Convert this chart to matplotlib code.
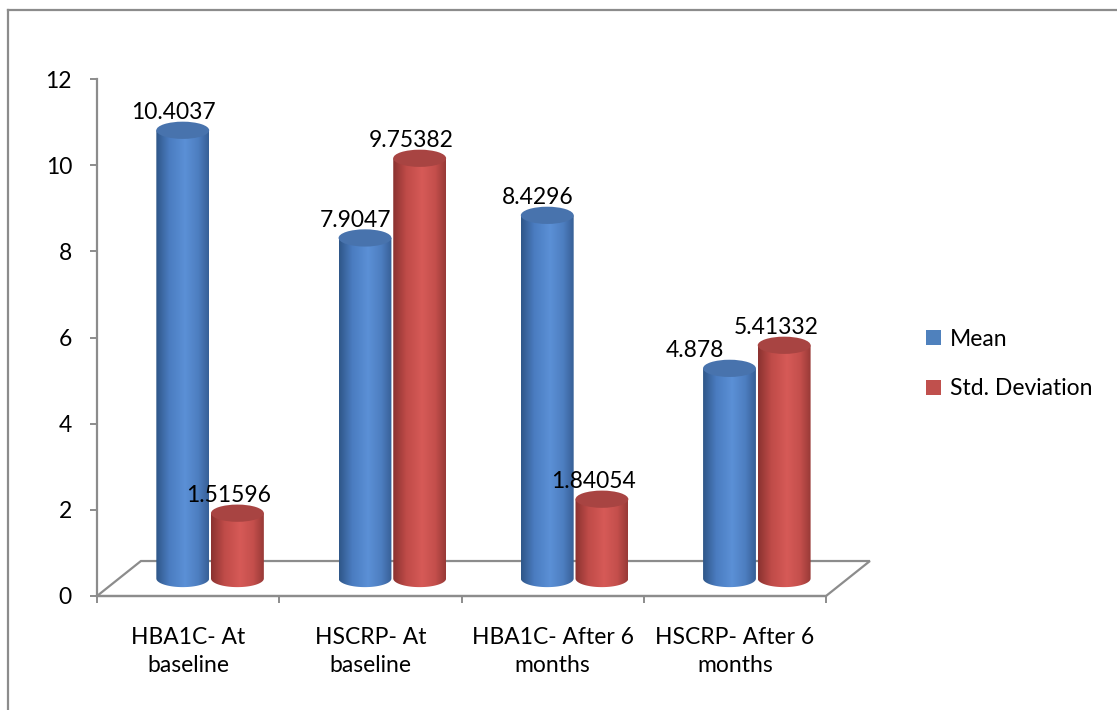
import numpy as np
import matplotlib
matplotlib.use("Agg")
import matplotlib.pyplot as plt
from matplotlib.patches import Ellipse, Polygon, PathPatch, Rectangle
from matplotlib.path import Path
from matplotlib.colors import LinearSegmentedColormap
from matplotlib.lines import Line2D

categories = ["HBA1C- At\nbaseline", "HSCRP- At\nbaseline",
              "HBA1C- After 6\nmonths", "HSCRP- After 6\nmonths"]
series_names = ["Mean", "Std. Deviation"]
mean_values = [10.4037, 7.9047, 8.4296, 4.878]
std_values = [1.51596, 9.75382, 1.84054, 5.41332]
mean_labels = ["10.4037", "7.9047", "8.4296", "4.878"]
std_labels = ["1.51596", "9.75382", "1.84054", "5.41332"]
y_ticks = [0, 2, 4, 6, 8, 10, 12]

plt.rcParams["font.family"] = ["Lato", "DejaVu Sans"]
FS = 16.5
W, H = 1117, 710
fig = plt.figure(figsize=(W / 100, H / 100), dpi=100)
ax = fig.add_axes([97 / W, (H - 596) / H, (826 - 97) / W, (596 - 79) / H])
ax.set_xlim(0, 4)
ax.set_ylim(0, 12)

edge_gray = "#8c8c8c"

# depth of the floor and of the bar plane (in data units)
floor_dx, floor_dy = 0.241, 0.812
bar_dx, bar_dy = floor_dx / 2, floor_dy / 2
bar_w = 0.29
ell_h = 0.40

# floor outline
floor = Polygon([(0, 0), (4, 0), (4 + floor_dx, floor_dy), (floor_dx, floor_dy)],
                closed=True, fill=False, edgecolor=edge_gray, lw=1.6,
                clip_on=False, zorder=1)
ax.add_patch(floor)

blue_cmap = LinearSegmentedColormap.from_list(
    "b", [(0, "#2f5688"), (0.25, "#4a7cc0"), (0.55, "#5b90d6"),
          (0.8, "#4d7ec0"), (1, "#375f96")])
red_cmap = LinearSegmentedColormap.from_list(
    "r", [(0, "#8a3230"), (0.25, "#bf4b48"), (0.55, "#d65a57"),
          (0.8, "#c44f4c"), (1, "#983a37")])
tops = {"b": "#4873ad", "r": "#a84442"}
grad = np.linspace(0, 1, 256).reshape(1, -1)


def cylinder(cx, value, cmap, top_color):
    x0, x1 = cx - bar_w / 2, cx + bar_w / 2
    base = bar_dy
    top = bar_dy + value
    t = np.linspace(np.pi, 2 * np.pi, 60)
    pts = [(cx + bar_w / 2 * np.cos(a), base + ell_h / 2 * np.sin(a)) for a in t]
    pts += [(x1, top), (x0, top), pts[0]]
    path = Path(pts, closed=True)
    im = ax.imshow(grad, cmap=cmap, aspect="auto",
                   extent=[x0, x1, base - ell_h, top], zorder=3,
                   interpolation="bilinear")
    clip = PathPatch(path, transform=ax.transData, facecolor="none",
                     edgecolor="none")
    ax.add_patch(clip)
    im.set_clip_path(clip)
    ax.add_patch(Ellipse((cx, top), bar_w, ell_h, angle=0,
                         facecolor=top_color, edgecolor="none", zorder=4))


for i in range(len(categories)):
    c = i + 0.5 + bar_dx
    cb = c - bar_w / 2 - 0.005
    cr = c + bar_w / 2 + 0.005
    cylinder(cb, mean_values[i], blue_cmap, tops["b"])
    cylinder(cr, std_values[i], red_cmap, tops["r"])
    close = mean_values[i] < std_values[i] and std_values[i] - mean_values[i] < 1
    nudge_b = -25 if close else -7
    ax.annotate(mean_labels[i], (cb, bar_dy + mean_values[i]),
                xytext=(nudge_b, 5), textcoords="offset points",
                ha="center", va="bottom", fontsize=FS, zorder=6)
    ax.annotate(std_labels[i], (cr, bar_dy + std_values[i]),
                xytext=(-6, 5), textcoords="offset points",
                ha="center", va="bottom", fontsize=FS, zorder=6)

ax.set_xlim(0, 4)
ax.set_ylim(0, 12)

# axes styling
for s in ["top", "right"]:
    ax.spines[s].set_visible(False)
for s in ["left", "bottom"]:
    ax.spines[s].set_color(edge_gray)
    ax.spines[s].set_linewidth(1.6)
ax.set_yticks(y_ticks)
ax.set_yticklabels([str(v) for v in y_ticks])
ax.tick_params(axis="y", length=5, width=1.4, color=edge_gray, pad=13,
               labelsize=FS)
ax.set_xticks([0, 1, 2, 3, 4])
ax.set_xticklabels([])
ax.tick_params(axis="x", which="major", length=5, width=1.4, color=edge_gray)
ax.set_xticks([0.5, 1.5, 2.5, 3.5], minor=True)
ax.set_xticklabels(categories, minor=True, fontsize=FS, linespacing=1.45)
ax.tick_params(axis="x", which="minor", length=0, pad=22)
ax.set_facecolor("none")

# legend
handles = [Rectangle((0, 0), 1, 1, facecolor="#4f81bd"),
           Rectangle((0, 0), 1, 1, facecolor="#c0504d")]
fig.legend(handles, series_names, loc="center left",
           bbox_to_anchor=(905 / W, 1 - 364 / H), frameon=False,
           fontsize=FS, handlelength=0.65, handleheight=0.65,
           handletextpad=0.4, labelspacing=1.25)

# chart area border
fig.add_artist(Line2D([8 / W, 8 / W], [0, 1 - 10 / H], color=edge_gray,
                      lw=1.6, transform=fig.transFigure))
fig.add_artist(Line2D([8 / W, 1], [1 - 10 / H, 1 - 10 / H], color=edge_gray,
                      lw=1.6, transform=fig.transFigure))

fig.savefig("out.png", dpi=100, facecolor="white")
